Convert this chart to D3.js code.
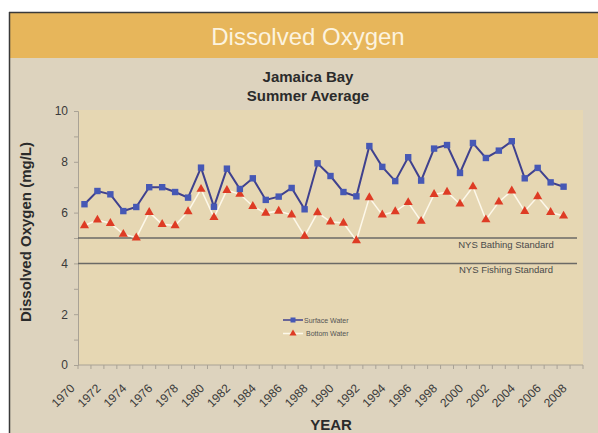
<!DOCTYPE html>
<html>
<head>
<meta charset="utf-8">
<script src="https://cdn.jsdelivr.net/npm/d3@7"></script>
<style>
  body { margin: 0; background: #fff; }
  svg { display: block; font-family: Arial, "Liberation Sans", sans-serif; }
</style>
</head>
<body>
<svg id="chart" width="598" height="433"></svg>
<script>
// axis categories (1970..2008) and data years
const categories = d3.range(1970, 2009);
const years = d3.range(1970, 2008);
const xTickLabels = d3.range(1970, 2009, 2);
const yTicks = [0, 2, 4, 6, 8, 10];

// summer average DO, mg/L
const surfaceWater = [6.33, 6.85, 6.72, 6.06, 6.22, 7.0, 7.0, 6.81, 6.59, 7.77,
    6.23, 7.73, 6.93, 7.35, 6.5, 6.63, 6.97, 6.13, 7.94, 7.44,
    6.81, 6.64, 8.62, 7.8, 7.24, 8.18, 7.26, 8.52, 8.66, 7.56,
    8.74, 8.15, 8.44, 8.81, 7.35, 7.76, 7.19, 7.02];
const bottomWater = [5.49, 5.71, 5.58, 5.15, 5.01, 6.01, 5.54, 5.49, 6.04, 6.92,
    5.81, 6.88, 6.73, 6.25, 5.98, 6.06, 5.91, 5.07, 6.0, 5.64,
    5.59, 4.9, 6.59, 5.91, 6.04, 6.4, 5.66, 6.72, 6.81, 6.34,
    7.02, 5.72, 6.42, 6.86, 6.05, 6.63, 6.01, 5.87];

const standards = [
    { name: "NYS Bathing Standard", value: 5 },
    { name: "NYS Fishing Standard", value: 4 }
];

const svg = d3.select("#chart");
const W = 598, H = 433;
const margin = { left: 78, right: 15, top: 110, bottom: 68 };

// panel + header
svg.append("rect").attr("x", 9).attr("y", 12).attr("width", W - 9).attr("height", H - 12)
    .attr("fill", "#ddd3be");
svg.append("rect").attr("x", 9).attr("y", 12).attr("width", W - 9).attr("height", 46)
    .attr("fill", "#e7b65b");
svg.append("line").attr("x1", 9).attr("x2", W).attr("y1", 12.5).attr("y2", 12.5)
    .attr("stroke", "#3a3a3a").attr("stroke-width", 1.5);
svg.append("line").attr("x1", 9.5).attr("x2", 9.5).attr("y1", 12).attr("y2", H)
    .attr("stroke", "#3a3a3a").attr("stroke-width", 1.5);

svg.append("text").attr("x", 308).attr("y", 45).attr("text-anchor", "middle")
    .attr("font-size", 24).attr("fill", "#fcf3df").text("Dissolved Oxygen");

svg.append("text").attr("x", 308).attr("y", 82).attr("text-anchor", "middle")
    .attr("font-size", 15).attr("font-weight", "bold").attr("fill", "#2b2b2b").text("Jamaica Bay");
svg.append("text").attr("x", 308).attr("y", 101).attr("text-anchor", "middle")
    .attr("font-size", 15).attr("font-weight", "bold").attr("fill", "#2b2b2b").text("Summer Average");

const x = d3.scaleBand().domain(categories).range([margin.left, W - margin.right]);
const y = d3.scaleLinear().domain([0, 10]).range([365, 111]);
const cx = d => x(d) + x.bandwidth() / 2;

// plot area
svg.append("rect").attr("x", margin.left).attr("y", margin.top)
    .attr("width", W - margin.right - margin.left).attr("height", y(0) - margin.top)
    .attr("fill", "#e6d7b3");

// y axis
const yAxis = svg.append("g").attr("transform", `translate(${margin.left},0)`)
    .call(d3.axisLeft(y).tickValues(d3.range(0, 11)).tickSize(4).tickPadding(6)
        .tickFormat(d => yTicks.includes(d) ? d : ""));
yAxis.select(".domain").attr("stroke", "#a9a295");
yAxis.selectAll(".tick line").attr("stroke", "#a9a295");
yAxis.selectAll(".tick text").attr("font-size", 12).attr("fill", "#3a3a3a")
    .attr("font-family", "Arial, 'Liberation Sans', sans-serif");

// x axis
const xAxis = svg.append("g").attr("transform", `translate(0,${y(0)})`);
xAxis.append("line").attr("x1", margin.left).attr("x2", W - margin.right)
    .attr("stroke", "#a9a295");
xAxis.selectAll(".xt").data(categories.concat([2009])).join("line")
    .attr("class", "xt")
    .attr("x1", d => d === 2009 ? x(2008) + x.bandwidth() : x(d))
    .attr("x2", d => d === 2009 ? x(2008) + x.bandwidth() : x(d))
    .attr("y1", 0).attr("y2", 4).attr("stroke", "#a9a295");
xAxis.selectAll(".xl").data(xTickLabels).join("text")
    .attr("class", "xl")
    .attr("transform", d => `translate(${cx(d) - 9},24) rotate(-45)`)
    .attr("text-anchor", "end").attr("font-size", 12).attr("fill", "#3a3a3a")
    .text(d => d);

svg.append("text").attr("x", 331).attr("y", 430).attr("text-anchor", "middle")
    .attr("font-size", 15).attr("font-weight", "bold").attr("fill", "#2b2b2b").text("YEAR");

svg.append("text").attr("transform", `translate(31,232) rotate(-90)`)
    .attr("text-anchor", "middle").attr("font-size", 15).attr("font-weight", "bold")
    .attr("fill", "#2b2b2b").text("Dissolved Oxygen (mg/L)");

// standards
standards.forEach(s => {
    svg.append("line").attr("x1", margin.left).attr("x2", 577)
        .attr("y1", y(s.value)).attr("y2", y(s.value))
        .attr("stroke", "#6b6a66").attr("stroke-width", 1.5);
    svg.append("text").attr("x", 506).attr("y", y(s.value) + 10)
        .attr("text-anchor", "middle").attr("font-size", 9.5).attr("fill", "#4a4a4a")
        .text(s.name);
});

// series
const line = d3.line().x((d, i) => cx(years[i])).y(d => y(d));

svg.append("path").datum(bottomWater).attr("d", line)
    .attr("fill", "none").attr("stroke", "#fdf8ea").attr("stroke-width", 1.5);
svg.append("g").selectAll("path").data(bottomWater).join("path")
    .attr("d", d3.symbol(d3.symbolTriangle, 36))
    .attr("transform", (d, i) => `translate(${cx(years[i])},${y(d)})`)
    .attr("fill", "#de3b24");

svg.append("path").datum(surfaceWater).attr("d", line)
    .attr("fill", "none").attr("stroke", "#3f418e").attr("stroke-width", 2);
svg.append("g").selectAll("rect").data(surfaceWater).join("rect")
    .attr("x", (d, i) => cx(years[i]) - 3.2).attr("y", d => y(d) - 3.2)
    .attr("width", 6.4).attr("height", 6.4).attr("fill", "#4658b5");

// legend
const legend = svg.append("g").attr("transform", "translate(283,320)");
legend.append("line").attr("x1", 0).attr("x2", 20).attr("stroke", "#3f418e").attr("stroke-width", 1.5);
legend.append("rect").attr("x", 7.5).attr("y", -2.5).attr("width", 5).attr("height", 5).attr("fill", "#4658b5");
legend.append("text").attr("x", 21).attr("y", 2.5).attr("font-size", 7).attr("fill", "#555").text("Surface Water");
legend.append("line").attr("x1", 0).attr("x2", 20).attr("y1", 13.5).attr("y2", 13.5)
    .attr("stroke", "#fdf8ea").attr("stroke-width", 1.5);
legend.append("path").attr("d", d3.symbol(d3.symbolTriangle, 22))
    .attr("transform", "translate(10,13.5)").attr("fill", "#de3b24");
legend.append("text").attr("x", 23).attr("y", 16).attr("font-size", 7).attr("fill", "#555").text("Bottom Water");
</script>
</body>
</html>
